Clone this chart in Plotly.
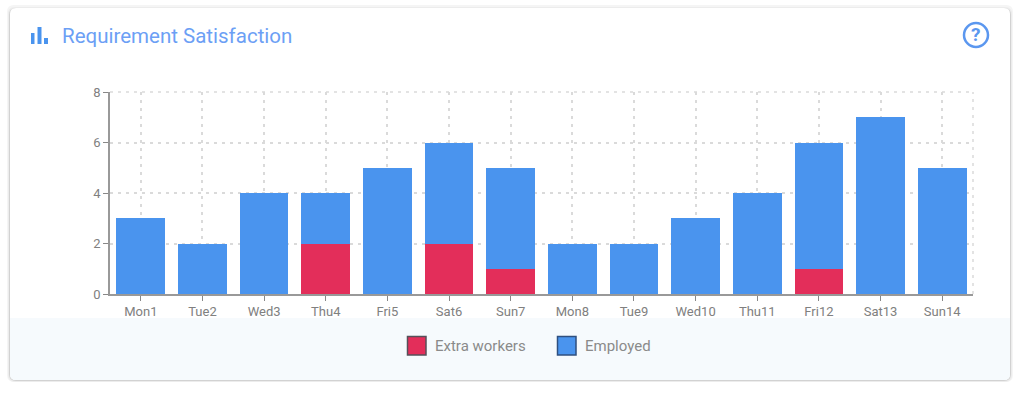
import plotly.graph_objects as go

categories = ["Mon1", "Tue2", "Wed3", "Thu4", "Fri5", "Sat6", "Sun7",
              "Mon8", "Tue9", "Wed10", "Thu11", "Fri12", "Sat13", "Sun14"]
extra_workers = [0, 0, 0, 2, 0, 2, 1, 0, 0, 0, 0, 1, 0, 0]
employed = [3, 2, 4, 2, 5, 4, 4, 2, 2, 3, 4, 5, 7, 5]
y_ticks = [0, 2, 4, 6, 8]
title_text = "Requirement Satisfaction"
RED = "#e32e5a"
BLUE = "#4a94ee"
TITLE_BLUE = "#6c9ff5"
GRID = "#dadada"
DASH = "3px,5px"
TICK_TEXT = "#808080"

W, H = 1024, 394
L, R, T, B = 110, 973, 92, 294
FONT = "Roboto"


def px(x):
    return (x - L) / (R - L)


def py(y):
    return (B - y) / (B - T)


def box(x0, y0, x1, y1, **kw):
    return dict(type="rect", xref="paper", yref="paper",
                x0=px(x0), x1=px(x1), y0=py(y0), y1=py(y1), **kw)


def rounded(x0, y0, x1, y1, r, bottom_only=False):
    X0, X1, Y0, Y1 = px(x0), px(x1), py(y0), py(y1)
    rx, ry = r / (R - L), r / (B - T)
    if bottom_only:
        return (f"M{X0},{Y0} L{X1},{Y0} L{X1},{Y1 + ry} Q{X1},{Y1} {X1 - rx},{Y1} "
                f"L{X0 + rx},{Y1} Q{X0},{Y1} {X0},{Y1 + ry} Z")
    return (f"M{X0 + rx},{Y0} L{X1 - rx},{Y0} Q{X1},{Y0} {X1},{Y0 - ry} "
            f"L{X1},{Y1 + ry} Q{X1},{Y1} {X1 - rx},{Y1} L{X0 + rx},{Y1} "
            f"Q{X0},{Y1} {X0},{Y1 + ry} L{X0},{Y0 - ry} Q{X0},{Y0} {X0 + rx},{Y0} Z")


def path(d, **kw):
    return dict(type="path", xref="paper", yref="paper", path=d, **kw)


shapes = []
# card shadow
for grow, dy, col in [(3, 0, "#f5f5f5"), (2, 1, "#ececec"), (1, 1, "#d2d2d2")]:
    shapes.append(path(rounded(10 - grow, 8 - grow + dy, 1010 + grow, 380 + grow + dy - 1, 7),
                       fillcolor=col, line_width=0, layer="below"))
# card and footer
shapes.append(path(rounded(10, 8, 1010, 380, 6), fillcolor="white", line_width=0, layer="below"))
shapes.append(path(rounded(10, 318, 1010, 380, 6, bottom_only=True),
                   fillcolor="#f6fafd", line_width=0, layer="below"))
# title icon
for x0, x1, y0 in [(31, 34.5, 33), (37.5, 41.5, 27), (44, 48, 38)]:
    shapes.append(box(x0, y0, x1, 44, fillcolor=BLUE, line_width=0, layer="below"))
# help icon
shapes.append(dict(type="circle", xref="paper", yref="paper",
                   x0=px(964), x1=px(988), y0=py(23), y1=py(47),
                   line=dict(color="#5b97ef", width=2.5), fillcolor="rgba(0,0,0,0)"))
# dashed plot edge (top and right)
shapes.append(dict(type="line", xref="paper", yref="paper", x0=1, x1=1, y0=0, y1=1,
                   line=dict(color=GRID, width=1.5, dash=DASH), layer="below"))
shapes.append(dict(type="line", xref="paper", yref="paper", x0=0, x1=1, y0=1, y1=1,
                   line=dict(color=GRID, width=1.5, dash=DASH), layer="below"))
# legend swatches
shapes.append(box(407.5, 336.5, 426, 355, fillcolor=RED, line=dict(color="#55505a", width=1.5)))
shapes.append(box(557.5, 336.5, 576, 355, fillcolor=BLUE, line=dict(color="#2f4f7f", width=1.5)))

annotations = [
    dict(text=title_text, xref="paper", yref="paper", x=px(60), y=py(36), xanchor="left",
         yanchor="middle", showarrow=False, font=dict(family=FONT, size=20.5, color=TITLE_BLUE)),
    dict(text="<b>?</b>", xref="paper", yref="paper", x=px(976), y=py(35), xanchor="center",
         yanchor="middle", showarrow=False, font=dict(family=FONT, size=19, color="#5b97ef")),
    dict(text="Extra workers", xref="paper", yref="paper", x=px(433), y=py(346), xanchor="left",
         yanchor="middle", showarrow=False, font=dict(family=FONT, size=15, color="#8a8a8a")),
    dict(text="Employed", xref="paper", yref="paper", x=px(583), y=py(346), xanchor="left",
         yanchor="middle", showarrow=False, font=dict(family=FONT, size=15, color="#8a8a8a")),
]

fig = go.Figure()
fig.add_bar(x=categories, y=extra_workers, name="Extra workers", marker_color=RED, marker_line_width=0)
fig.add_bar(x=categories, y=employed, name="Employed", marker_color=BLUE, marker_line_width=0)

fig.update_layout(
    barmode="stack", bargap=0.21, showlegend=False,
    width=W, height=H, margin=dict(l=L, r=W - R, t=T, b=H - B),
    paper_bgcolor="white", plot_bgcolor="rgba(0,0,0,0)",
    font=dict(family=FONT, size=13, color=TICK_TEXT),
    shapes=shapes, annotations=annotations,
)
fig.update_xaxes(showgrid=True, gridcolor=GRID, griddash=DASH, gridwidth=1.5,
                 ticks="outside", ticklen=5, tickcolor="#888888", showline=True,
                 linecolor="#999999", linewidth=1.5, tickangle=0,
                 tickfont=dict(size=13, color=TICK_TEXT))
fig.update_yaxes(range=[0, 8], tickvals=y_ticks, showgrid=True, gridcolor=GRID,
                 griddash=DASH, gridwidth=1.5, ticks="outside", ticklen=5,
                 tickcolor="#888888", showline=True, linecolor="#999999", linewidth=1.5,
                 zeroline=False, tickfont=dict(size=13, color=TICK_TEXT))

fig.write_html("out.html", config=dict(displayModeBar=False),
               post_script="document.body.style.margin='0';document.documentElement.style.overflow='hidden';")
